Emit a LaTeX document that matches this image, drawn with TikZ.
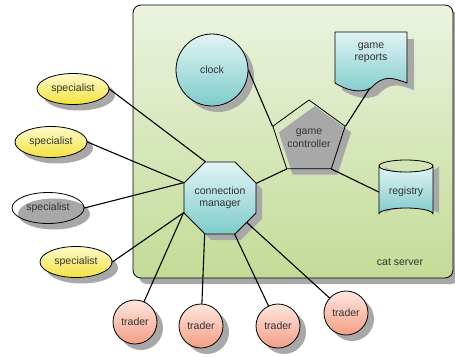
\documentclass[tikz,border=0pt]{standalone}
\usepackage{fontspec}
\setmainfont{Liberation Sans}
\usepackage{tikz}
\usetikzlibrary{shapes.geometric,shadows}
\definecolor{srvtop}{HTML}{EBF3DF}
\definecolor{srvbot}{HTML}{C3DB97}
\definecolor{cyntop}{HTML}{E2F4F4}
\definecolor{cynbot}{HTML}{7FCBCB}
\definecolor{yeltop}{HTML}{FDF9CC}
\definecolor{yelbot}{HTML}{F3E33E}
\definecolor{pnktop}{HTML}{FDE6DE}
\definecolor{pnkbot}{HTML}{F49E86}
\definecolor{shdw}{HTML}{A8A8A8}
\definecolor{txtc}{HTML}{333333}
\tikzset{
  every node/.style={font=\fontsize{10.5}{12.5}\selectfont, text=txtc},
  shad/.style={drop shadow={shadow xshift=6pt, shadow yshift=-6pt, fill=shdw, opacity=1}},
  outl/.style={draw=black, line width=0.8pt},
  specbase/.style={ellipse, outl, shad, minimum width=72pt, minimum height=31pt, inner sep=0pt},
  specbox/.style={specbase, top color=yeltop, bottom color=yelbot},
  tradbox/.style={circle, outl, shad, minimum size=44pt, inner sep=0pt, top color=pnktop, bottom color=pnkbot},
  link/.style={line width=1.1pt, line cap=round}
}

\begin{document}
\begin{tikzpicture}[x=1pt,y=-1pt,line join=round]
\useasboundingbox (0,0) rectangle (455,356);
% server area
\node[outl, shad, rounded corners=8pt, minimum width=320pt, minimum height=273pt, top color=srvtop, bottom color=srvbot] (srv) at (293,141.5) {};
\node (srvlbl) at (400,262) {cat server};

% inside the server
\node[circle, outl, shad, minimum size=72pt, inner sep=0pt, top color=cyntop, bottom color=cynbot] (clock) at (212,70) {clock};
\fill[shdw] (342,39) -- (414,39) -- (414,90) .. controls (400,85) and (391,81) .. (378,95) .. controls (367,101) and (353,97) .. (342,90) -- cycle;
\shade[top color=cyntop, bottom color=cynbot, outl] (335,32) -- (407,32) -- (407,83) .. controls (393,78) and (384,74) .. (371,88) .. controls (360,94) and (346,90) .. (335,83) -- cycle;
\node[align=center] (reports) at (371,53) {game\\reports};
\coordinate (repfoot) at (370,88);
\node[regular polygon, regular polygon sides=5, minimum size=76pt, inner sep=0pt, outl, shad, align=center] (gc) at (309,138) {game\\controller};
\fill[shdw] (385,166) -- (385,214) arc (180:360:27 and 6) -- (439,166) arc (0:180:27 and 6) -- cycle;
\shade[top color=cyntop, bottom color=cynbot, outl] (379,166) -- (379,214) arc (180:360:27 and 6) -- (433,166) arc (0:180:27 and 6) -- cycle;
\draw[outl] (379,166) arc (180:360:27 and 6);
\node[minimum width=54pt, minimum height=60pt, inner sep=0pt] (reg) at (406,192) {registry};
\node[regular polygon, regular polygon sides=8, minimum size=78pt, inner sep=0pt, outl, shad, top color=cyntop, bottom color=cynbot, align=center] (cm) at (220,198) {connection\\manager};

% specialists
\node[specbox] (s1) at (73,89) {specialist};
\node[specbox] (s2) at (51,142) {specialist};
\node[specbase] (s3) at (48,208) {specialist};
\node[specbox] (s4) at (76,262) {specialist};

% traders
\node[tradbox] (t1) at (135,322) {trader};
\node[tradbox] (t2) at (201,326) {trader};
\node[tradbox] (t3) at (278,326) {trader};
\node[tradbox] (t4) at (346,313) {trader};

% links
\draw[link] (s1.east) -- (cm.112.5);
\draw[link] (s2.east) -- (cm.157.5);
\draw[link] (s3.east) -- (cm.157.5);
\draw[link] (s4.east) -- (cm.202.5);
\draw[link] (t1) -- (cm.202.5);
\draw[link] (t2) -- (cm.247.5);
\draw[link] (t3) -- (cm.292.5);
\draw[link] (t4) -- (cm);
\draw[link] (cm.22.5) -- (gc.234);
\draw[link] (clock.east) -- (gc.162);
\draw[link] (gc.18) -- (repfoot);
\draw[link] (gc.306) -- (reg.west);
\end{tikzpicture}
\end{document}
